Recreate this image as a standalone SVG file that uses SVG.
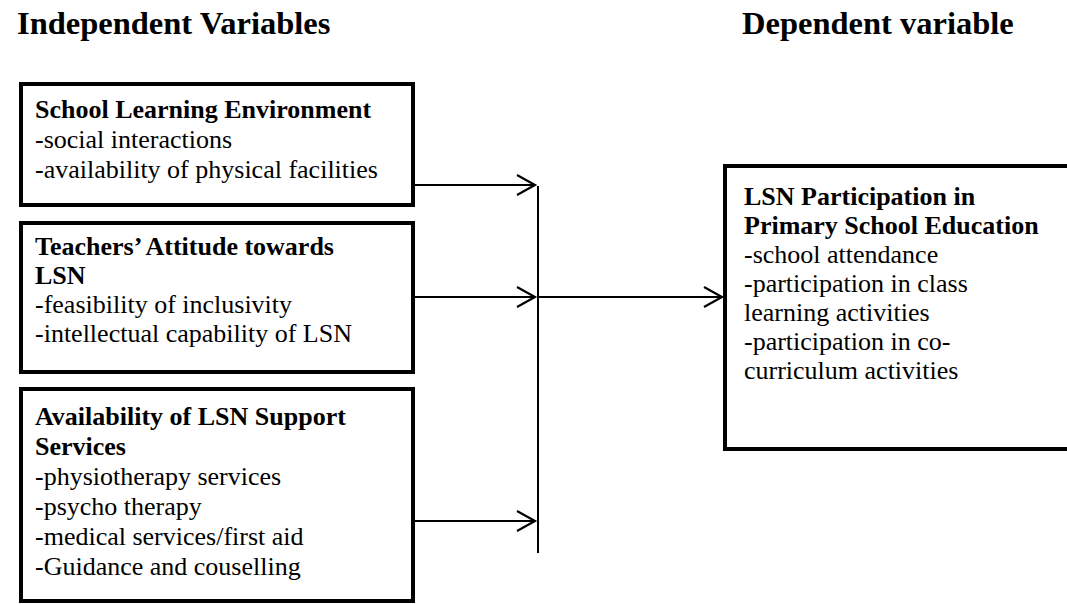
<svg xmlns="http://www.w3.org/2000/svg" width="1067" height="604" viewBox="0 0 1067 604">
<defs>
<style>
.title{font-family:"Liberation Serif","Times New Roman",serif;font-weight:bold;font-size:32.5px;fill:#000}
.h{font-family:"Liberation Serif","Times New Roman",serif;font-weight:bold;font-size:26px;fill:#000}
.t{font-family:"Liberation Serif","Times New Roman",serif;font-size:26px;fill:#000}
.box{fill:#fff;stroke:#000;stroke-width:4}
.ln{fill:none;stroke:#000;stroke-width:2}
</style>
<marker id="chev" markerWidth="24" markerHeight="24" viewBox="0 0 24 24" refX="21" refY="12" orient="auto" markerUnits="userSpaceOnUse">
<path d="M3,2 L21,12 L3,22" fill="none" stroke="#000" stroke-width="2.2"/>
</marker>
</defs>
<rect width="1067" height="604" fill="#fff"/>
<g id="titles">
<text class="title" x="17" y="34">Independent Variables</text>
<text class="title" x="742" y="34">Dependent variable</text>
</g>
<g id="node-environment">
<rect class="box" x="21" y="84" width="392" height="121"/>
<text class="h" x="35" y="118">School Learning Environment</text>
<text class="t" x="35" y="148">-social interactions</text>
<text class="t" x="35" y="178">-availability of physical facilities</text>
</g>
<g id="node-attitude">
<rect class="box" x="21" y="223" width="392" height="149"/>
<text class="h" x="35" y="255">Teachers’ Attitude towards</text>
<text class="h" x="35" y="284">LSN</text>
<text class="t" x="35" y="313">-feasibility of inclusivity</text>
<text class="t" x="35" y="342">-intellectual capability of LSN</text>
</g>
<g id="node-support">
<rect class="box" x="21" y="389" width="392" height="212"/>
<text class="h" x="35" y="425">Availability of LSN Support</text>
<text class="h" x="35" y="455">Services</text>
<text class="t" x="35" y="485">-physiotherapy services</text>
<text class="t" x="35" y="515">-psycho therapy</text>
<text class="t" x="35" y="545">-medical services/first aid</text>
<text class="t" x="35" y="575">-Guidance and couselling</text>
</g>
<g id="node-participation">
<rect class="box" x="725" y="166" width="350" height="283"/>
<text class="h" x="744" y="205">LSN Participation in</text>
<text class="h" x="744" y="234">Primary School Education</text>
<text class="t" x="744" y="263">-school attendance</text>
<text class="t" x="744" y="292">-participation in class</text>
<text class="t" x="744" y="321">learning activities</text>
<text class="t" x="744" y="350">-participation in co-</text>
<text class="t" x="744" y="379">curriculum activities</text>
</g>
<g id="connectors">
<line class="ln" x1="415" y1="185" x2="535" y2="185" marker-end="url(#chev)"/>
<line class="ln" x1="415" y1="297" x2="535" y2="297" marker-end="url(#chev)"/>
<line class="ln" x1="415" y1="521" x2="535" y2="521" marker-end="url(#chev)"/>
<line class="ln" x1="538" y1="186" x2="538" y2="553"/>
<line class="ln" x1="538" y1="297" x2="722" y2="297" marker-end="url(#chev)"/>
</g>
</svg>
